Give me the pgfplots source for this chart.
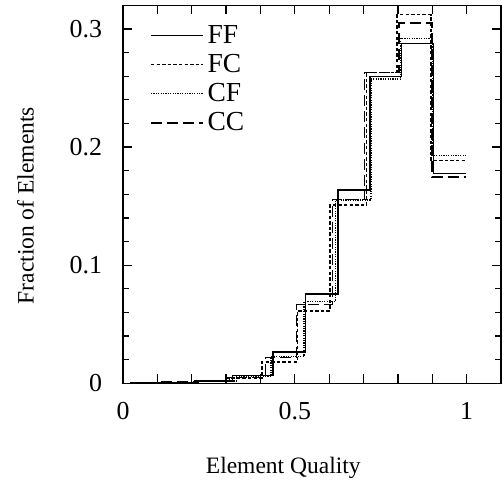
\documentclass[border=0pt]{standalone}
\usepackage{fontspec}
\setmainfont{Liberation Serif}
\usepackage{pgfplots}
\pgfplotsset{compat=1.18}

\begin{document}
\begin{tikzpicture}
\begin{axis}[
    name=ax,
    scale only axis,
    width=189bp, height=189bp,
    xmin=0, xmax=1.1,
    ymin=0, ymax=0.32,
    axis line style={line width=0.8pt},
    tick align=inside,
    tick style={line width=0.6pt, black},
    major tick length=4.5bp,
    minor tick length=3bp,
    xtick={0,0.1,0.2,0.3,0.4,0.5,0.6,0.7,0.8,0.9,1},
    xticklabels={0,,,,,0.5,,,,,1},
    ytick={0,0.1,0.2,0.3},
    yticklabels={0,0.1,0.2,0.3},
    minor ytick={0.02,0.04,0.06,0.08,0.12,0.14,0.16,0.18,0.22,0.24,0.26,0.28},
    ticklabel style={font=\fontsize{13}{15}\selectfont},
    xticklabel style={yshift=-6bp},
    yticklabel style={xshift=-7bp},
    xlabel={Element Quality},
    ylabel={Fraction of Elements},
    label style={font=\fontsize{11.8}{14}\selectfont},
    xlabel style={at={(axis description cs:0.424,-0.225)}, anchor=center},
    ylabel style={at={(axis description cs:-0.258,0.47)}, anchor=center},
    legend style={draw=none, fill=none, at={(0.055,0.97)}, anchor=north west,
      font=\fontsize{13.8}{15}\selectfont, row sep=0bp},
    legend cell align=left,
    legend image code/.code={\draw[#1] (0bp,0bp) -- (20bp,0bp);
      \path (0bp,0bp) -- (26bp,0bp);},
    every axis plot/.append style={line width=0.75pt, black, const plot mark left},
]
% FF
\addplot[solid] coordinates {
 (0.02,0.0002) (0.12,0.0006) (0.22,0.0018) (0.318,0.0068) (0.437,0.0263)
 (0.531,0.0755) (0.625,0.1635) (0.719,0.2598) (0.811,0.2877) (0.903,0.1774)
 (0.998,0.1774)};
\addlegendentry{FF}
% FC
\addplot[dash pattern=on 1.7bp off 1.1bp] coordinates {
 (0.02,0.0002) (0.11,0.0008) (0.21,0.0020) (0.30,0.0045) (0.405,0.0180)
 (0.508,0.0614) (0.602,0.1508) (0.709,0.2630) (0.798,0.3120) (0.896,0.1887)
 (0.998,0.1887)};
\addlegendentry{FC}
% CF
\addplot[dash pattern=on 0.6bp off 0.6bp] coordinates {
 (0.02,0.0002) (0.12,0.0008) (0.22,0.0020) (0.33,0.0056) (0.431,0.0226)
 (0.527,0.0693) (0.618,0.1550) (0.721,0.2575) (0.808,0.2920) (0.900,0.1930)
 (0.998,0.1930)};
\addlegendentry{CF}
% CC
\addplot[dash pattern=on 5.5bp off 2.5bp] coordinates {
 (0.02,0.0002) (0.11,0.0010) (0.21,0.0025) (0.31,0.0050) (0.415,0.0220)
 (0.505,0.0665) (0.609,0.1556) (0.703,0.2630) (0.803,0.3050) (0.899,0.1745)
 (0.998,0.1745)};
\addlegendentry{CC}
\end{axis}
\pgfresetboundingbox
\path (ax.south west) +(-61.5bp,-50.35bp) rectangle +(190.5bp,191.65bp);
\end{tikzpicture}
\end{document}
